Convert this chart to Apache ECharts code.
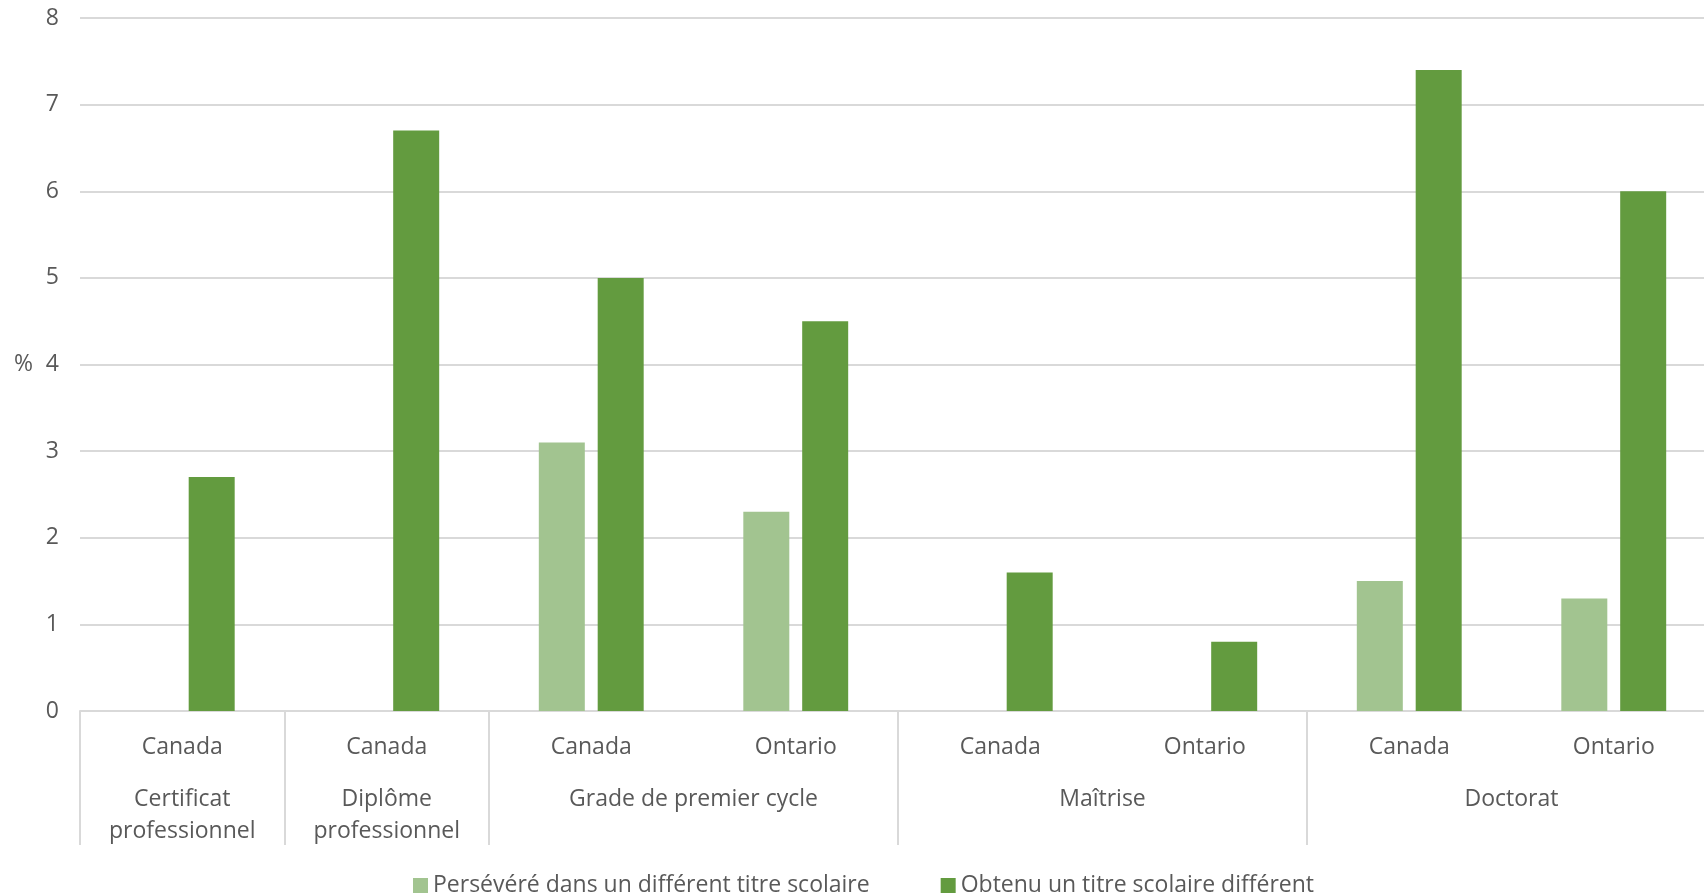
<!DOCTYPE html>
<html>
<head>
<meta charset="utf-8">
<script src="https://cdn.jsdelivr.net/npm/echarts@6/dist/echarts.min.js"></script>
<style>
html,body{margin:0;padding:0;background:#fff;}
#chart{width:1704px;height:896px;}
</style>
</head>
<body>
<div id="chart"></div>
<script>
// ---- Data ----
const subCategories = ['Canada','Canada','Canada','Ontario','Canada','Ontario','Canada','Ontario'];
const groupLabels = ['Certificat\nprofessionnel','Diplôme\nprofessionnel','Grade de premier cycle','Maîtrise','Doctorat'];
const groupSizes = [1,1,2,2,2];
const seriesNames = ['Persévéré dans un différent titre scolaire','Obtenu un titre scolaire différent'];
const persevere = [null,null,3.1,2.3,null,null,1.5,1.3];
const obtenu = [2.7,6.7,5.0,4.5,1.6,0.8,7.4,6.0];
const yMin = 0, yMax = 8, yStep = 1;
const yAxisName = '%';

// ---- Derived ----
const groupStarts = [];
const groupCenters = {};
let acc = 0;
groupSizes.forEach((s, i) => {
  groupStarts.push(acc);
  groupCenters[(acc + s / 2).toFixed(1)] = groupLabels[i];
  acc += s;
});
const total = acc;

const FONT = 'Open Sans';
const FS = 23;
const TXT = '#595959';
const GRID = '#d9d9d9';

const chart = echarts.init(document.getElementById('chart'), null, {renderer: 'canvas'});
chart.setOption({
  backgroundColor: '#ffffff',
  animation: false,
  textStyle: {fontFamily: FONT, color: TXT},
  grid: {left: 80, top: 18, width: 1636, height: 693, containLabel: false, outerBoundsMode: 'none'},
  legend: {
    data: seriesNames,
    left: 408, top: 869,
    itemWidth: 15, itemHeight: 15, itemGap: 71,
    icon: 'rect',
    textStyle: {fontFamily: FONT, fontSize: FS, color: TXT, padding: [0, 0, 0, 0]}
  },
  xAxis: [
    {
      type: 'category',
      data: subCategories,
      position: 'bottom',
      axisLine: {show: true, lineStyle: {color: GRID, width: 2}},
      axisTick: {
        show: true, length: 134,
        lineStyle: {color: GRID, width: 2},
        interval: (idx) => groupStarts.indexOf(idx) >= 0 || idx === total
      },
      axisLabel: {interval: 0, margin: 25, fontSize: FS, color: TXT, fontFamily: FONT},
      splitLine: {show: false}
    },
    {
      type: 'value',
      min: 0, max: total, interval: 0.5,
      position: 'bottom',
      axisLine: {show: false},
      axisTick: {show: false},
      splitLine: {show: false},
      axisLabel: {
        margin: 72, fontSize: FS, lineHeight: 32, color: TXT, fontFamily: FONT,
        showMinLabel: true, showMaxLabel: true,
        formatter: (v) => groupCenters[v.toFixed(1)] || ''
      }
    }
  ],
  yAxis: {
    type: 'value', min: yMin, max: yMax, interval: yStep,
    name: yAxisName, nameLocation: 'middle', nameRotate: 0, nameGap: 47,
    nameTextStyle: {fontSize: FS, color: TXT, fontFamily: FONT},
    axisLine: {show: false}, axisTick: {show: false},
    axisLabel: {margin: 21, fontSize: FS, color: TXT, fontFamily: FONT},
    splitLine: {show: true, lineStyle: {color: GRID, width: 2}}
  },
  series: [
    {
      name: seriesNames[0], type: 'bar', xAxisIndex: 0, data: persevere,
      barWidth: 46, barGap: '28%',
      itemStyle: {color: '#a2c490'}
    },
    {
      name: seriesNames[1], type: 'bar', xAxisIndex: 0, data: obtenu,
      barWidth: 46, barGap: '28%',
      itemStyle: {color: '#639b3f'}
    }
  ]
});
</script>
</body>
</html>
